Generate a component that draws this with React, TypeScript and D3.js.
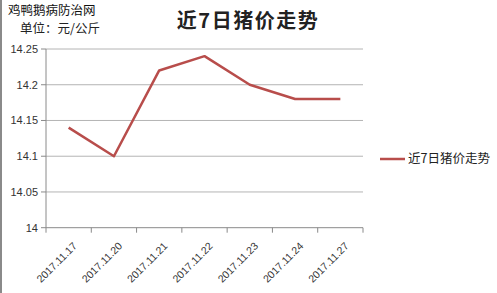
import React from "react";
import * as d3 from "d3";

const categories = ["2017.11.17", "2017.11.20", "2017.11.21", "2017.11.22", "2017.11.23", "2017.11.24", "2017.11.27"];
const prices = [14.14, 14.10, 14.22, 14.24, 14.20, 14.18, 14.18];
const yTicks = [14, 14.05, 14.1, 14.15, 14.2, 14.25];
const yTickLabels = ["14", "14.05", "14.1", "14.15", "14.2", "14.25"];
const title = "近7日猪价走势";
const seriesName = "近7日猪价走势";
const watermark = "鸡鸭鹅病防治网";
const unitLabel = "单位：元/公斤";

const W = 497, H = 293;
const plot = { left: 46, right: 363, top: 49, bottom: 227.7 };
const CJK = "'Noto Sans CJK SC', 'Noto Sans', sans-serif";
const NUM = "'Liberation Sans', 'DejaVu Sans', sans-serif";

export default function App() {
  const x = d3.scaleBand<string>().domain(categories).range([plot.left, plot.right]).padding(0);
  const y = d3.scaleLinear().domain([14, 14.25]).range([plot.bottom, plot.top]);
  const line = d3.line<number>()
    .x((_, i) => (x(categories[i]) as number) + x.bandwidth() / 2)
    .y((d) => y(d));
  const bounds = [...categories.map((c) => x(c) as number), plot.right];

  return (
    <svg width={W} height={H} style={{ position: "absolute", left: 0, top: 0, background: "#fff" }}>
      <rect x={0} y={0} width={W} height={H} fill="#fff" />
      <line x1={1} x2={1} y1={0} y2={H} stroke="#8a8a8a" strokeWidth={2} />
      <text x={8} y={15} fontSize={12.5} fontFamily={CJK} fill="#111">{watermark}</text>
      <text x={20} y={33} fontSize={12.5} fontFamily={CJK} fill="#222">{unitLabel}</text>
      <text x={248} y={28} textAnchor="middle" fontSize={20} fontWeight={600} letterSpacing={1.5} fontFamily={CJK} fill="#222">{title}</text>

      {yTicks.map((t, i) => (
        <g key={i}>
          {t > 14 && (
            <line x1={plot.left} x2={plot.right} y1={y(t)} y2={y(t)} stroke="#b4b4b4" strokeWidth={1} />
          )}
          <line x1={plot.left - 5} x2={plot.left} y1={y(t)} y2={y(t)} stroke="#8a8a8a" strokeWidth={1} />
          <text x={plot.left - 8} y={y(t)} dy="0.35em" textAnchor="end" fontSize={11} fontFamily={NUM} fill="#333">{yTickLabels[i]}</text>
        </g>
      ))}
      <line x1={plot.left} x2={plot.left} y1={plot.top} y2={plot.bottom} stroke="#8a8a8a" strokeWidth={1} />
      <line x1={plot.left} x2={plot.right} y1={plot.bottom} y2={plot.bottom} stroke="#8a8a8a" strokeWidth={1} />
      {bounds.map((b, i) => (
        <line key={i} x1={b} x2={b} y1={plot.bottom} y2={plot.bottom + 5} stroke="#8a8a8a" strokeWidth={1} />
      ))}
      {categories.map((c, i) => {
        const cx = (x(c) as number) + x.bandwidth() / 2 + 9;
        const cy = plot.bottom + 19;
        return (
          <text key={i} x={cx} y={cy} textAnchor="end" fontSize={10.5} fontFamily={NUM} fill="#333"
            transform={`rotate(-45 ${cx} ${cy})`}>{c}</text>
        );
      })}
      <path d={line(prices) || ""} fill="none" stroke="#b84d4b" strokeWidth={2.5} strokeLinejoin="round" />

      <line x1={380} x2={405} y1={159} y2={159} stroke="#b84d4b" strokeWidth={2.5} />
      <text x={408} y={159} dy="0.35em" fontSize={12.5} fontFamily={CJK} fill="#222">{seriesName}</text>
    </svg>
  );
}
